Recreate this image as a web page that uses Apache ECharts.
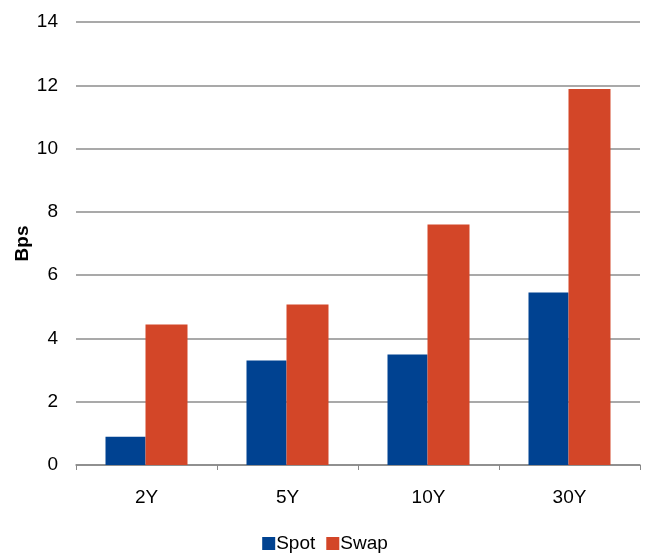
<!DOCTYPE html>
<html><head><meta charset="utf-8">
<script src="https://cdn.jsdelivr.net/npm/echarts@6/dist/echarts.min.js"></script>
<style>html,body{margin:0;padding:0;background:#fff}#c{width:650px;height:558px}</style>
</head><body><div id="c"></div>
<script>
var categories = ['2Y', '5Y', '10Y', '30Y'];
var spot = [0.89, 3.30, 3.49, 5.45];
var swap = [4.44, 5.07, 7.60, 11.88];
var yTicks = [0, 2, 4, 6, 8, 10, 12, 14];
var seriesNames = ['Spot', 'Swap'];

var chart = echarts.init(document.getElementById('c'), null, {renderer: 'canvas'});
var font = '"Liberation Sans", Arial, sans-serif';
chart.setOption({
  animation: false,
  grid: {left: 76, right: 10, top: 22, bottom: 93, containLabel: false, outerBoundsMode: 'none'},
  legend: {
    bottom: 0, left: 'center', itemWidth: 13, itemHeight: 13, itemGap: 11,
    icon: 'rect',
    textStyle: {fontFamily: font, fontSize: 19, color: '#000', padding: [0, 0, 0, -4]},
    data: seriesNames
  },
  xAxis: {
    type: 'category', data: categories,
    axisLine: {lineStyle: {color: '#888', width: 1.5}},
    axisTick: {show: true, length: 5, lineStyle: {color: '#888'}},
    axisLabel: {fontFamily: font, fontSize: 19, color: '#000', margin: 23}
  },
  yAxis: {
    type: 'value', min: yTicks[0], max: yTicks[yTicks.length - 1], interval: 2,
    name: 'Bps', nameLocation: 'middle', nameGap: 44, nameRotate: 90, nameMoveOverlap: false,
    nameTextStyle: {fontFamily: font, fontSize: 19, fontWeight: 'bold', color: '#000'},
    axisLine: {show: false}, axisTick: {show: false},
    axisLabel: {fontFamily: font, fontSize: 19, color: '#000', margin: 18},
    splitLine: {lineStyle: {color: '#8c8c8c', width: 1.5}}
  },
  series: [
    {name: seriesNames[0], type: 'bar', data: spot, barWidth: 40, barGap: '0%',
     itemStyle: {color: '#004291'}},
    {name: seriesNames[1], type: 'bar', data: swap, barWidth: 42, barGap: '0%',
     itemStyle: {color: '#d34628'}}
  ]
});
</script></body></html>
